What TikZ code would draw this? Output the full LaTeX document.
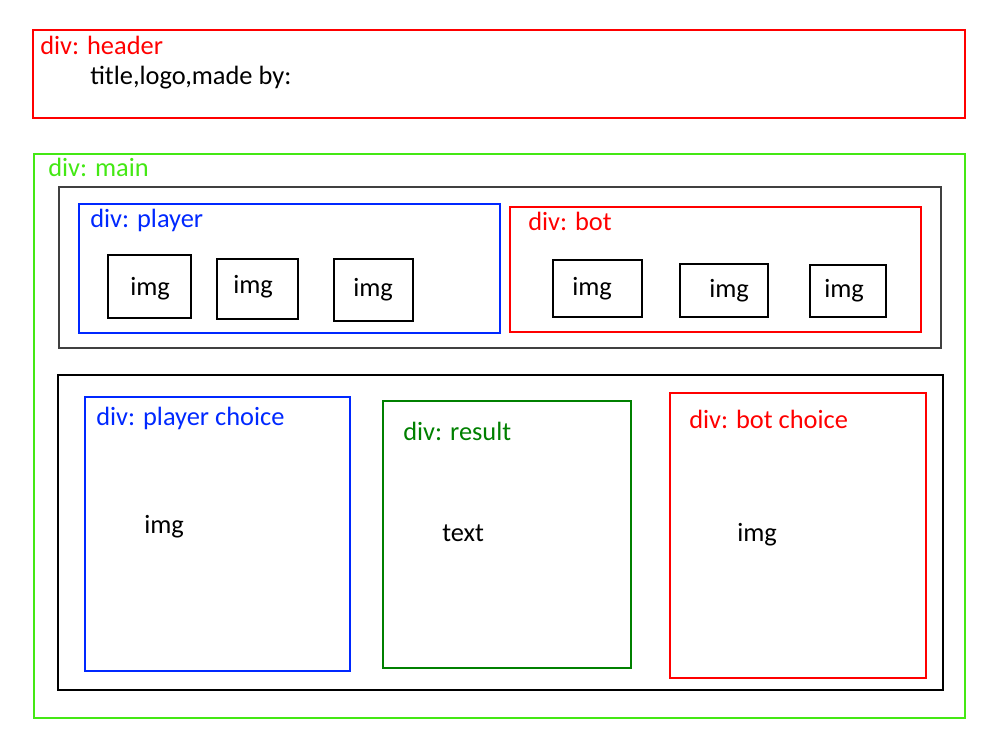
\documentclass[tikz,border=0pt]{standalone}
\usepackage{fontspec}
\setmainfont{Carlito}
\usetikzlibrary{fit}
\definecolor{hred}{RGB}{255,0,0}
\definecolor{mgreen}{RGB}{68,232,20}
\definecolor{pblue}{RGB}{0,40,255}
\definecolor{dgreen}{RGB}{0,128,0}
\definecolor{dgrey}{RGB}{64,64,64}
\begin{document}
\begin{tikzpicture}[x=0.75pt,y=-0.75pt,
  box/.style={draw=#1,line width=1.5pt,inner sep=0pt,rectangle},
  lbl/.style={text=#1,anchor=base west,inner sep=0pt,font=\fontsize{19.8}{24}\selectfont},
  lbl/.default=black]
\useasboundingbox (0,0) rectangle (1000,750);
% header
\node[box=hred,fit={(33,30)(965,118)}] (header) {};
\node[lbl=hred] (headerlbl) at (40,54) {div: header};
\node[lbl] (title) at (90,84) {title,logo,made by:};
% main
\node[box=mgreen,fit={(34,154)(965,718)}] (main) {};
\node[lbl=mgreen] (mainlbl) at (48,176) {div: main};
% top row
\node[box=dgrey,fit={(59,187)(941,348)}] (toprow) {};
\node[box=pblue,fit={(79,204)(500,333)}] (player) {};
\node[lbl=pblue] (playerlbl) at (90,227) {div: player};
\node[box=black,fit={(108,255)(191,318)}] (pimg1) {};
\node[box=black,fit={(217,259)(298,319)}] (pimg2) {};
\node[box=black,fit={(334,259)(413,321)}] (pimg3) {};
\node[lbl] (pimg1t) at (130,295) {img};
\node[lbl] (pimg2t) at (233,293) {img};
\node[lbl] (pimg3t) at (353,296) {img};
\node[box=hred,fit={(510,207)(921,332)}] (bot) {};
\node[lbl=hred] (botlbl) at (528,230) {div: bot};
\node[box=black,fit={(553,260)(642,317)}] (bimg1) {};
\node[box=black,fit={(680,264)(768,317)}] (bimg2) {};
\node[box=black,fit={(810,265)(886,317)}] (bimg3) {};
\node[lbl] (bimg1t) at (572,295) {img};
\node[lbl] (bimg2t) at (709,297) {img};
\node[lbl] (bimg3t) at (824,297) {img};
% bottom row
\node[box=black,fit={(58,375)(943,690)}] (botrow) {};
\node[box=pblue,fit={(85,397)(350,671)}] (pchoice) {};
\node[lbl=pblue] (pchoicelbl) at (96,425) {div: player choice};
\node[lbl] (pchoicet) at (144,533) {img};
\node[box=dgreen,fit={(383,401)(631,668)}] (result) {};
\node[lbl=dgreen] (resultlbl) at (403,440) {div: result};
\node[lbl] (resultt) at (442,541) {text};
\node[box=hred,fit={(670,393)(926,678)}] (bchoice) {};
\node[lbl=hred] (bchoicelbl) at (689,428) {div: bot choice};
\node[lbl] (bchoicet) at (737,541) {img};
\end{tikzpicture}
\end{document}
